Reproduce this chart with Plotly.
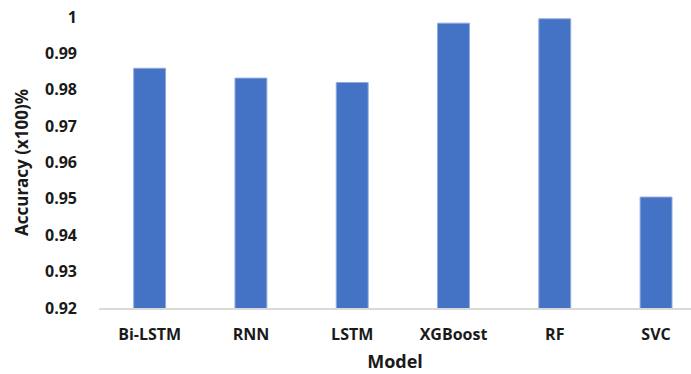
import plotly.graph_objects as go

# Model accuracy comparison
models = ["Bi-LSTM", "RNN", "LSTM", "XGBoost", "RF", "SVC"]
accuracy = [0.9859, 0.9832, 0.9820, 0.9983, 0.9995, 0.9505]

y_tick_vals = [0.92, 0.93, 0.94, 0.95, 0.96, 0.97, 0.98, 0.99, 1.0]
y_tick_text = ["0.92", "0.93", "0.94", "0.95", "0.96", "0.97", "0.98", "0.99", "1"]

FONT = "Open Sans"

fig = go.Figure(
    go.Bar(
        x=models,
        y=accuracy,
        marker=dict(color="#4472C4", line=dict(color="#8FAADC", width=1)),
        width=0.315,
    )
)

fig.update_layout(
    width=691,
    height=374,
    margin=dict(l=99, r=0, t=17, b=66),
    paper_bgcolor="white",
    plot_bgcolor="white",
    showlegend=False,
    font=dict(family=FONT, color="#1a1a1a"),
    xaxis=dict(
        range=[-0.5, 5.345],
        showgrid=False,
        showline=True,
        linecolor="#D9D9D9",
        linewidth=1.5,
        ticks="",
        ticklabelstandoff=11,
        tickfont=dict(size=16, family=FONT, weight="bold"),
        title=dict(text="<b>Model</b>", font=dict(size=18, family=FONT), standoff=11),
    ),
    yaxis=dict(
        range=[0.92, 1.0],
        tickvals=y_tick_vals,
        ticktext=y_tick_text,
        showgrid=False,
        showline=False,
        zeroline=False,
        ticks="",
        ticklabelstandoff=21,
        tickfont=dict(size=16, family=FONT, weight="bold"),
        title=dict(text="<b>Accuracy (x100)%</b>", font=dict(size=17, family=FONT), standoff=12),
    ),
)

fig.write_html("out.html")
